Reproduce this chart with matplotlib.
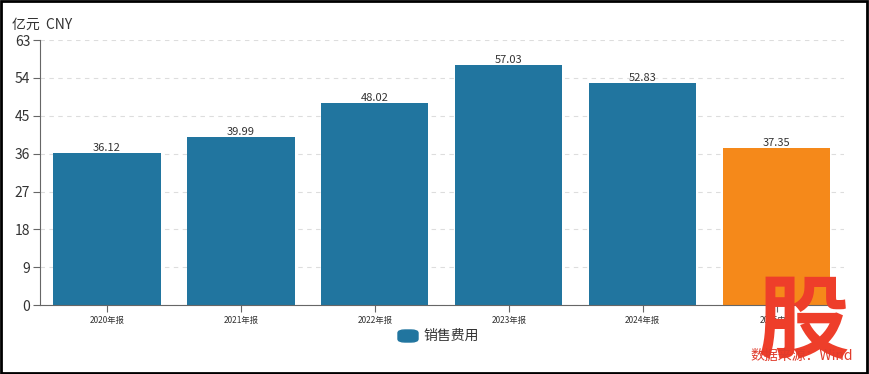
import matplotlib.pyplot as plt
from matplotlib.patches import FancyBboxPatch, Rectangle

plt.rcParams['font.family'] = ['Noto Sans CJK SC', 'DejaVu Sans']

categories = ['2020年报', '2021年报', '2022年报', '2023年报', '2024年报', '2025中报']
values = [36.12, 39.99, 48.02, 57.03, 52.83, 37.35]
colors = ['#21759f'] * 5 + ['#f5891a']
yticks = [0, 9, 18, 27, 36, 45, 54, 63]

fig = plt.figure(figsize=(8.69, 3.74), dpi=100)
ax = fig.add_axes([0.046, 0.184, 0.925, 0.709])

x = range(len(categories))
bars = ax.bar(x, values, width=0.8, color=colors, zorder=2)
for xi, v in zip(x, values):
    ax.text(xi, v, f'{v:.2f}', ha='center', va='bottom', fontsize=8, color='#333333')

ax.set_xlim(-0.5, len(categories) - 0.5)
ax.set_ylim(0, 63)
ax.set_yticks(yticks)
ax.set_yticklabels([str(t) for t in yticks], fontsize=10, color='#333333')
ax.set_xticks(list(x))
ax.set_xticklabels(categories, fontsize=6, color='#333333')
ax.tick_params(axis='y', length=5, color='#666666', pad=2)
ax.tick_params(axis='x', length=5, color='#666666', pad=3)
ax.grid(axis='y', linestyle=(0, (4, 4)), color='#dddddd', linewidth=0.8, zorder=0)
for s in ['top', 'right']:
    ax.spines[s].set_visible(False)
for s in ['left', 'bottom']:
    ax.spines[s].set_color('#666666')

fig.text(0.014, 0.935, '亿元  CNY', fontsize=10, color='#333333', va='center')

# legend
fig.patches.append(FancyBboxPatch((398 / 869, 1 - 342 / 374), 20 / 869, 12 / 374,
                                  boxstyle='round,pad=0,rounding_size=0.008',
                                  transform=fig.transFigure, color='#21759f'))
fig.text(423 / 869, 1 - 336 / 374, '销售费用', fontsize=10, color='#333333', va='center')

# watermark
fig.text(0.925, 0.135, '股', fontsize=66, color='#ee3e2a', ha='center', va='center',
         fontweight='bold', style='italic', zorder=5)
fig.text(0.982, 0.048, '数据来源：Wind', fontsize=10, color='#e03c2c', ha='right', va='center',
         zorder=6)

# border
fig.patches.append(Rectangle((0.001, 0.002), 0.997, 0.995, transform=fig.transFigure,
                             fill=False, edgecolor='black', linewidth=2))

fig.savefig('out.png', dpi=100)
